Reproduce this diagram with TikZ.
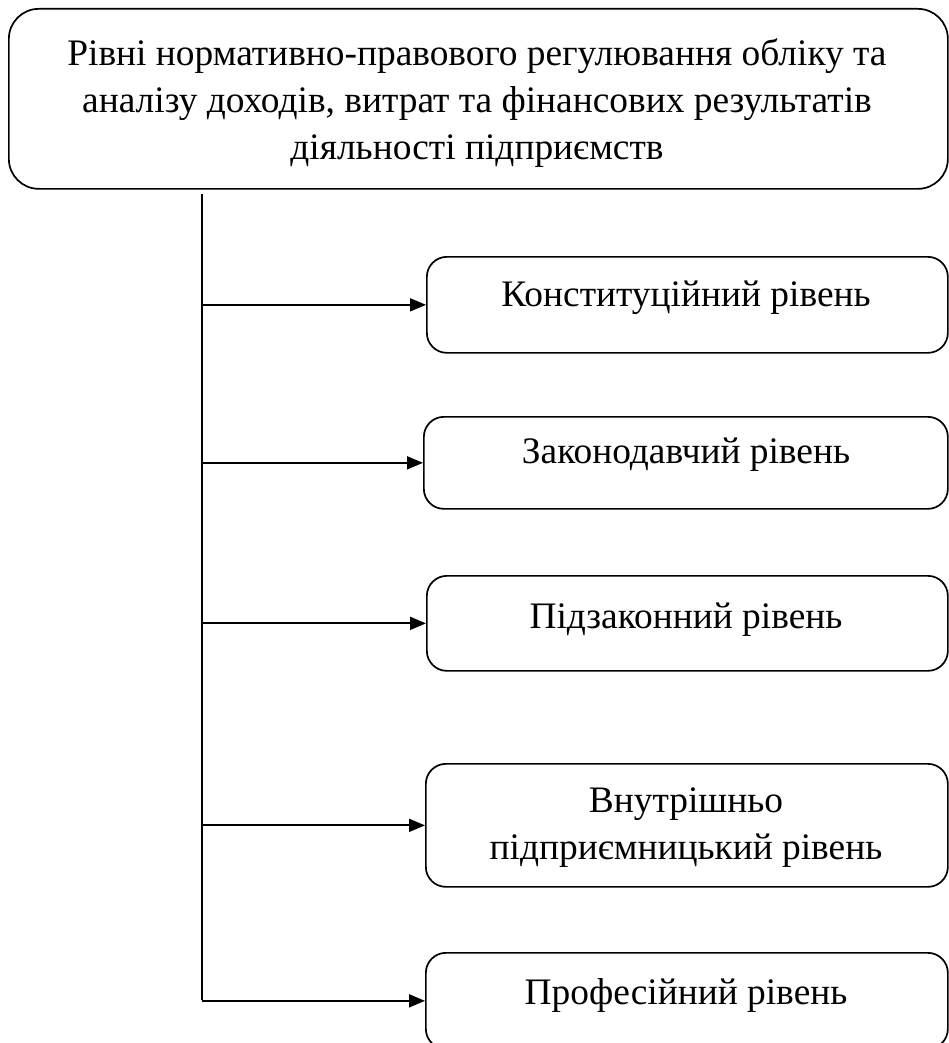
\documentclass[tikz,border=0pt]{standalone}
\usepackage{fontspec}
\setmainfont{Liberation Serif}
\usetikzlibrary{arrows.meta}
\begin{document}
\begin{tikzpicture}[x=1pt,y=-1pt,
  box/.style={draw, line width=1.7pt, rounded corners=20pt, anchor=north west, inner sep=0pt},
  conn/.style={line width=1.8pt, -{Triangle[length=16pt,width=13pt]}},
  spine/.style={line width=1.2pt},
  lbl/.style={font=\fontsize{37.4}{47}\selectfont, anchor=base, inner sep=0pt, align=center}]
\useasboundingbox (0,0) rectangle (949,1043);
% top box
\node[box, rounded corners=30pt, minimum width=939pt, minimum height=180pt] (top) at (8,8) {};
\node[lbl] (toptext) at (477,160) {Рівні нормативно-правового регулювання обліку та\\аналізу доходів, витрат та фінансових результатів\\діяльності підприємств};
% level boxes
\node[box, minimum width=521pt, minimum height=96pt] (b1) at (426,256) {};
\node[box, minimum width=524pt, minimum height=92pt] (b2) at (423,416) {};
\node[box, minimum width=521pt, minimum height=95pt] (b3) at (426,575) {};
\node[box, minimum width=522pt, minimum height=123pt] (b4) at (425,763) {};
\node[box, minimum width=522pt, minimum height=96pt] (b5) at (425,952) {};
\node[lbl] (t1) at (686,306) {Конституційний рівень};
\node[lbl] (t2) at (686,463) {Законодавчий рівень};
\node[lbl] (t3) at (686,628) {Підзаконний рівень};
\node[lbl] (t4) at (686,859) {Внутрішньо\\підприємницький рівень};
\node[lbl] (t5) at (686,1004) {Професійний рівень};
% spine
\coordinate (s0) at (202,194);
\coordinate (s5) at (202,1000);
\draw[spine] (s0) -- (s5);
\foreach \b in {b1,b2,b3,b4,b5}{
  \draw[conn] (s0 |- \b.west) -- (\b.west);
}
\end{tikzpicture}
\end{document}
